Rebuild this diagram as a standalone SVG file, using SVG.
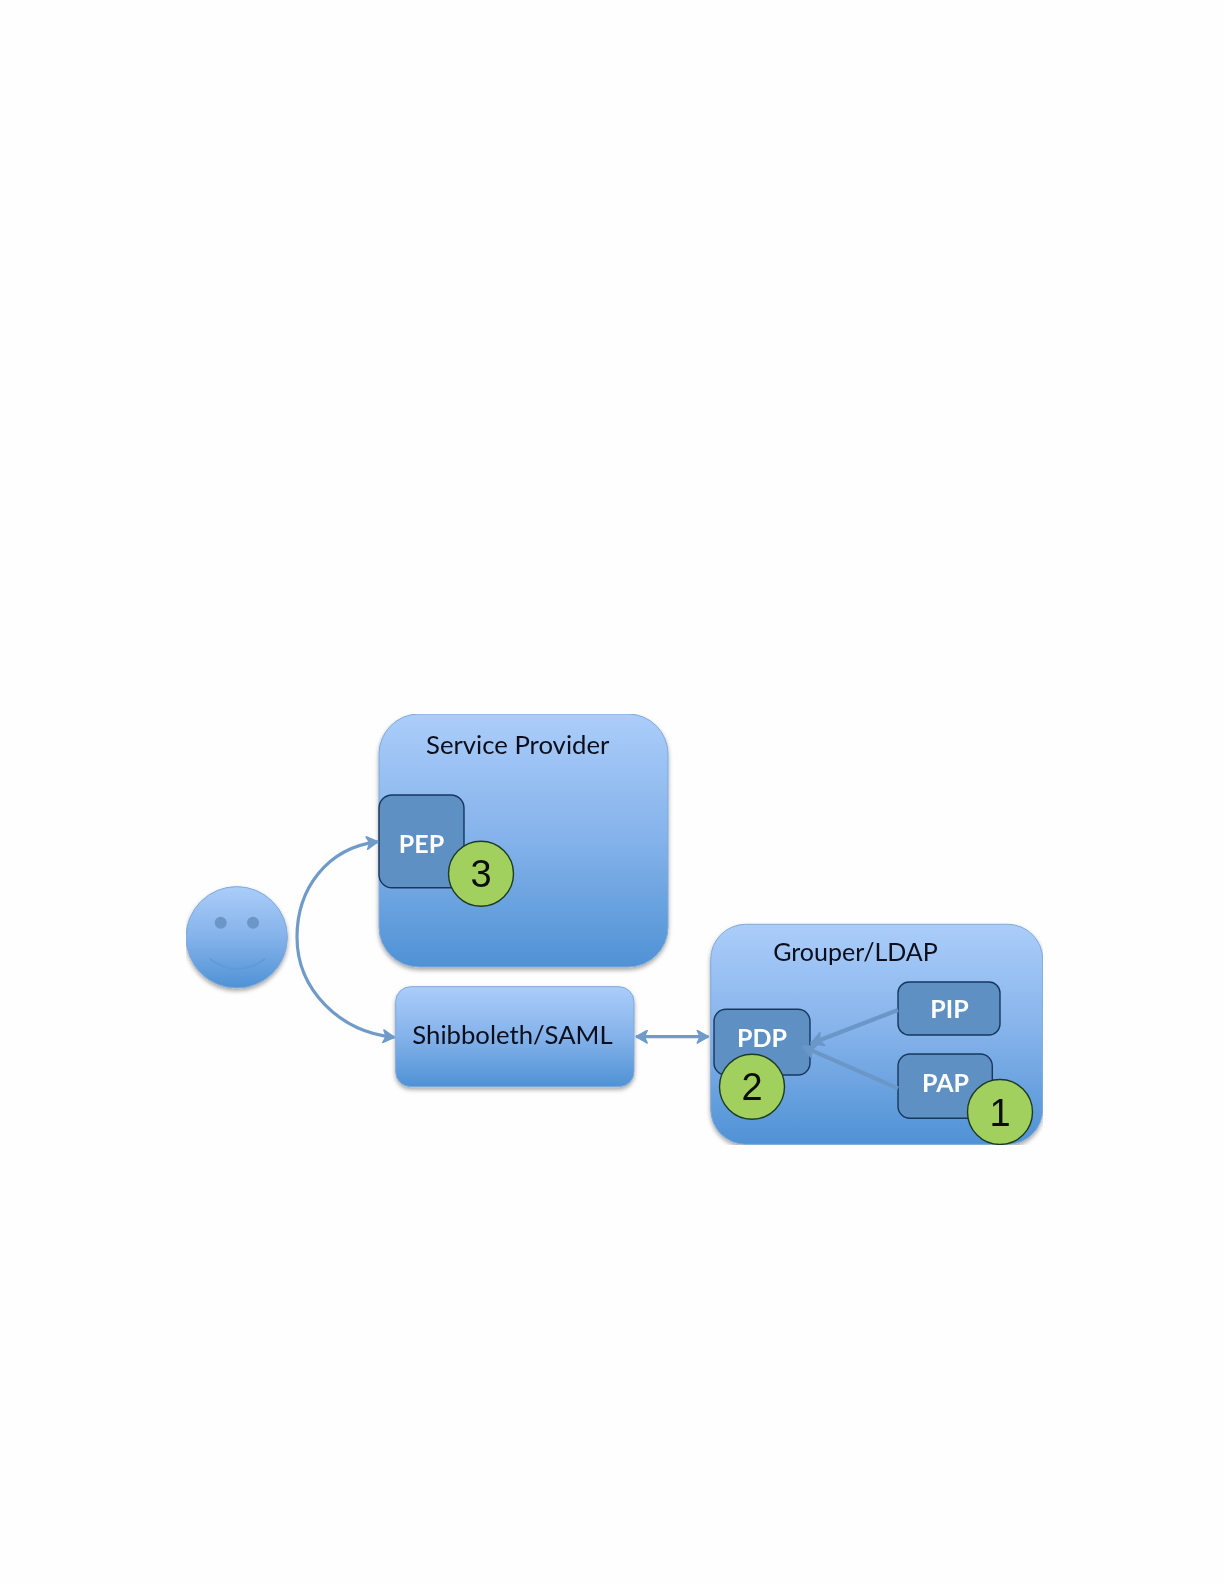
<svg xmlns="http://www.w3.org/2000/svg" width="1224" height="1584" viewBox="0 0 1224 1584">
<defs>
<linearGradient id="blue" x1="0" y1="0" x2="0" y2="1"><stop offset="0" stop-color="#abcdfa"/><stop offset="0.5" stop-color="#84b2ea"/><stop offset="1" stop-color="#4f92d5"/></linearGradient>
<filter id="sh" x="-10%" y="-10%" width="120%" height="120%"><feDropShadow dx="0" dy="2.5" stdDeviation="2" flood-color="#000" flood-opacity="0.35"/></filter>
<filter id="soft" x="0" y="0" width="100%" height="100%"><feGaussianBlur stdDeviation="0.5"/></filter>
<marker id="ah" viewBox="0 0 10 10" refX="9" refY="5" markerWidth="4.4" markerHeight="4.4" orient="auto-start-reverse"><path d="M1 0.5 L9 5 L1 9.5 L3 5 Z" fill="#6f9bc8" stroke="#6f9bc8" stroke-linejoin="round"/></marker>
<marker id="ah2" viewBox="0 0 10 10" refX="9" refY="5" markerWidth="3.6" markerHeight="3.6" orient="auto"><path d="M1 0.5 L9 5 L1 9.5 L3 5 Z" fill="#6a97c8" stroke="#6a97c8"/></marker>
</defs>
<style>
.box{fill:url(#blue);stroke:#7fa9d9;stroke-width:1;filter:url(#sh)}
.inner{fill:#5f90c4;stroke:#17375e;stroke-width:1.4}
.num{fill:#a2d05f;stroke:#1d3b22;stroke-width:1.4}
.conn{fill:none;stroke:#6f9bc8;stroke-width:3.2}
.thick{fill:none;stroke:#6a97c8;stroke-width:4.2}
.title{font-family:"Lato","Open Sans",sans-serif;font-size:25.7px;fill:#0a0f1a;text-anchor:middle}
.lbl{font-family:"Lato","Open Sans",sans-serif;font-size:25px;font-weight:700;fill:#fff;text-anchor:middle}
.n{font-family:"Liberation Sans",Arial,sans-serif;font-size:38px;fill:#0a0f0a;text-anchor:middle}
</style>
<rect width="1224" height="1584" fill="#fefefe"/>
<g filter="url(#soft)">
<g id="user">
<circle class="box" cx="236.7" cy="937.3" r="50.7"/>
<circle cx="220.7" cy="922.7" r="6" fill="#6b97c8"/>
<circle cx="253" cy="922.7" r="6" fill="#6b97c8"/>
<path d="M210 959 Q237 979 265 959" fill="none" stroke="#6199da" stroke-width="1.6"/>
</g>
<g id="service-provider">
<rect class="box" x="379" y="714" width="289" height="253" rx="40"/>
<text class="title" x="517.7" y="754">Service Provider</text>
</g>
<g id="shibboleth">
<rect class="box" x="395.7" y="986.7" width="238.3" height="100" rx="15"/>
<text class="title" x="512.5" y="1044">Shibboleth/SAML</text>
</g>
<g id="grouper">
<rect class="box" x="710.7" y="924.3" width="332" height="220" rx="35"/>
<text class="title" x="855.5" y="961" style="font-size:25px">Grouper/LDAP</text>
</g>
<g id="pep">
<rect class="inner" x="379" y="795" width="85" height="92.7" rx="13"/>
<text class="lbl" x="421.5" y="853">PEP</text>
</g>
<g id="pdp">
<rect class="inner" x="714" y="1009.3" width="96" height="65.7" rx="12"/>
<text class="lbl" x="762" y="1047">PDP</text>
</g>
<g id="pip">
<rect class="inner" x="898" y="982" width="102" height="53" rx="11"/>
<text class="lbl" x="949.5" y="1018">PIP</text>
</g>
<g id="pap">
<rect class="inner" x="898" y="1054" width="94.3" height="64.3" rx="12"/>
<text class="lbl" x="945.5" y="1092">PAP</text>
</g>
<g id="connectors">
<path class="conn" d="M378 841.7 C 326 848 297 890 297 937 C 297 990 340 1032 394.5 1037.3" marker-start="url(#ah)" marker-end="url(#ah)"/>
<path class="conn" d="M636 1036.7 H708.5" marker-start="url(#ah)" marker-end="url(#ah)"/>
<path class="thick" d="M898 1010 L811 1043.5" marker-end="url(#ah2)"/>
<path class="thick" d="M898 1088.3 L803 1046.7" marker-end="url(#ah2)"/>
</g>
<g id="badge-3">
<circle class="num" cx="481" cy="873.8" r="32.5"/>
<text class="n" x="481" y="887">3</text>
</g>
<g id="badge-2">
<circle class="num" cx="752" cy="1086.7" r="32.5"/>
<text class="n" x="752" y="1100">2</text>
</g>
<g id="badge-1">
<circle class="num" cx="1000" cy="1112" r="32.5"/>
<text class="n" x="1000" y="1126">1</text>
</g>
</g>
</svg>
